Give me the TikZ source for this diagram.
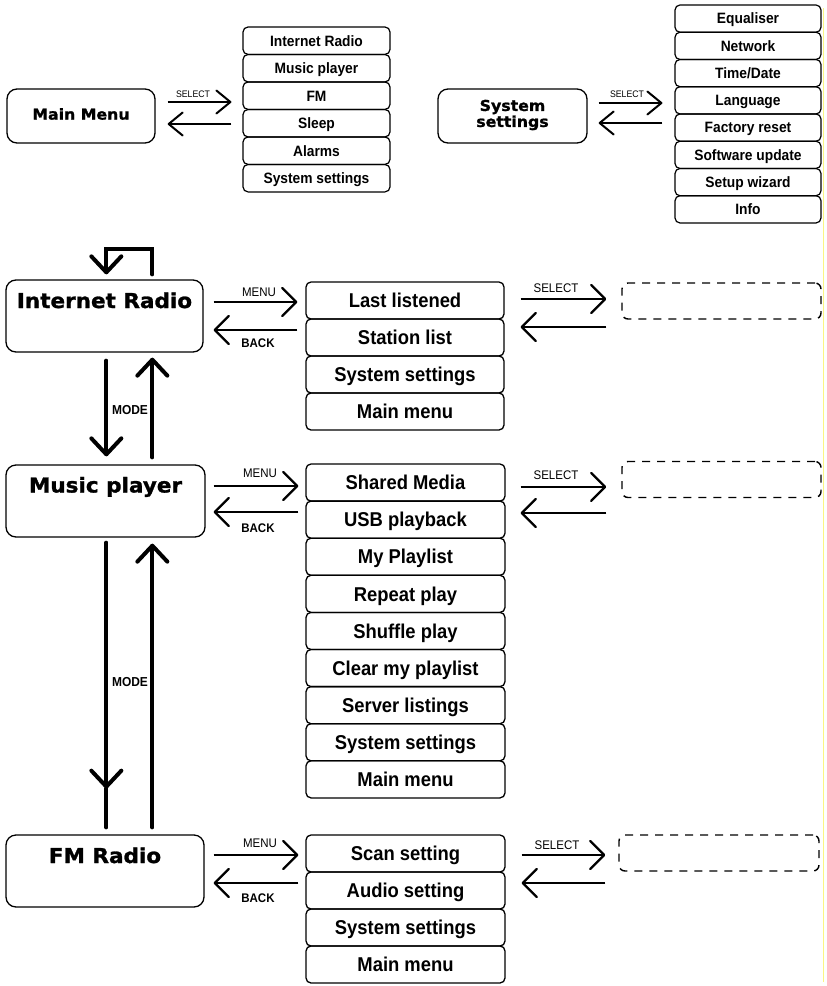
\documentclass[tikz,border=0pt]{standalone}
\usepackage{fontspec}
\setmainfont{Liberation Sans}
\newfontfamily\itemfont[FakeStretch=0.92]{Liberation Sans}
\newfontfamily\headfont[FakeStretch=1.05,FakeBold=1.3]{DejaVu Sans}
\usetikzlibrary{arrows.meta,calc}
\definecolor{scanyellow}{RGB}{250,245,130}
\begin{document}
\begin{tikzpicture}[x=1pt,y=-1pt,
  itembox/.style={draw, rounded corners=5pt, line width=1.3pt, inner sep=0pt,
    font=\itemfont\bfseries\fontsize{20}{24}\selectfont, text height=14.3pt, text depth=0pt,
    minimum width=198pt, minimum height=37pt},
  smallitem/.style={draw, rounded corners=5pt, line width=1.2pt, inner sep=0pt,
    font=\itemfont\bfseries\fontsize{15}{18}\selectfont, text height=10.7pt, text depth=0pt,
    minimum width=147pt, minimum height=27.4pt},
  headbox/.style={draw, rounded corners=10pt, line width=1.3pt, inner sep=0pt},
  headtext/.style={font=\headfont\bfseries\fontsize{20.5}{24}\selectfont, inner sep=0pt,
    text height=15pt, text depth=0pt},
  smallhead/.style={font=\headfont\bfseries\fontsize{15}{16}\selectfont, inner sep=0pt, align=center},
  dashbox/.style={draw, dashed, dash pattern=on 8pt off 7pt, rounded corners=6pt, line width=1.4pt,
    minimum width=199pt, minimum height=36pt, inner sep=0pt},
  lbl/.style={font=\itemfont\fontsize{12.5}{14}\selectfont, inner sep=0pt, text height=9pt, text depth=0pt},
  blbl/.style={lbl, font=\itemfont\bfseries\fontsize{12.5}{14}\selectfont},
  tlbl/.style={font=\itemfont\fontsize{9.5}{11}\selectfont, inner sep=0pt, text height=6.8pt, text depth=0pt},
  harr/.style={line width=2.3pt, -{Straight Barb[length=14pt,width=28pt,round]}},
  tarr/.style={line width=2pt, -{Straight Barb[length=14pt,width=23pt,round]}},
  varr/.style={line width=4pt, line cap=round, -{Straight Barb[length=16pt,width=30pt,round]}},
  vline/.style={line width=4pt, line cap=round}
]
\useasboundingbox (0,0) rectangle (827,986);
\draw[scanyellow, line width=0.8pt] (823,8) -- (823,982);

% ---------- Main Menu ----------
\node[headbox, minimum width=148pt, minimum height=54pt] (mm) at (81,116) {};
\node[smallhead] (mmt) at (81,114) {Main Menu};
\foreach \t [count=\i] in {Internet Radio,Music player,FM,Sleep,Alarms,System settings}
  \node[smallitem] (m\i) at (316.5,{27+13.7+27.5*(\i-1)}) {\t};
\draw[tarr] ($(mm.east)+(12,-14)$) -- ($(m3.west|-mm.east)+(-11,-14)$);
\node[tlbl] (mmsel) at (193,94) {SELECT};
\draw[tarr] ($(m3.west|-mm.east)+(-11,8)$) -- ($(mm.east)+(12,8)$);

% ---------- System settings ----------
\node[headbox, minimum width=149pt, minimum height=54pt] (ss) at (512.5,116) {};
\node[smallhead] (sst) at (512.5,115) {System\\settings};
\foreach \t [count=\i] in {Equaliser,Network,Time/Date,Language,Factory reset,Software update,Setup wizard,Info}
  \node[smallitem, minimum width=146pt, minimum height=27.25pt] (s\i) at (748,{5+13.6+27.25*(\i-1)}) {\t};
\draw[tarr] ($(ss.east)+(11,-13)$) -- ($(s4.west|-ss.east)+(-12,-13)$);
\node[tlbl] (sssel) at (627,94.5) {SELECT};
\draw[tarr] ($(s4.west|-ss.east)+(-12,7)$) -- ($(ss.east)+(11,7)$);

% ---------- Internet Radio ----------
\node[headbox, minimum width=197pt, minimum height=72pt] (ir) at (104.5,316) {};
\node[headtext] (irt) at (104.5,300.5) {Internet Radio};
\foreach \t [count=\i] in {Last listened,Station list,System settings,Main menu}
  \node[itembox] (i\i) at (405,{282+18.5+37*(\i-1)}) {\t};
\node[dashbox] (d1) at (721.5,301) {};
\draw[harr] ($(ir.east|-i1)+(10,1.5)$) -- ($(i1.west)+(-8,1.5)$);
\node[lbl] (irmenu) at (259,292) {MENU};
\draw[harr] ($(i2.west)+(-8,-7.5)$) -- ($(ir.east|-i2)+(10,-7.5)$);
\node[blbl] (irback) at (258,343) {BACK};
\draw[harr] ($(i1.east)+(16,-1.5)$) -- ($(d1.west|-i1)+(-15,-1.5)$);
\node[lbl] (irsel) at (556,288) {SELECT};
\draw[harr] ($(d1.west|-i2)+(-15,-10.5)$) -- ($(i2.east)+(16,-10.5)$);
% loop
\draw[varr] ($(ir.north west)+(147,-5)$) -- ++(0,-25) -| ($(ir.north west)+(101,-5)$);

% ---------- Music player ----------
\node[headbox, minimum width=199pt, minimum height=72pt] (mp) at (105.5,501) {};
\node[headtext] (mpt) at (105.5,485) {Music player};
\foreach \t [count=\i] in {Shared Media,USB playback,My Playlist,Repeat play,Shuffle play,Clear my playlist,Server listings,System settings,Main menu}
  \node[itembox, minimum width=199pt, minimum height=37.1pt] (p\i) at (405.5,{464+18.55+37.1*(\i-1)}) {\t};
\node[dashbox] (d2) at (721.5,479.5) {};
\draw[harr] ($(mp.east|-p1)+(8,3.4)$) -- ($(p1.west)+(-7,3.4)$);
\node[lbl] (mpmenu) at (260,473) {MENU};
\draw[harr] ($(p2.west)+(-7,-7.7)$) -- ($(mp.east|-p2)+(8,-7.7)$);
\node[blbl] (mpback) at (258,527.5) {BACK};
\draw[harr] ($(p1.east)+(15,4.4)$) -- ($(d2.west|-p1)+(-15,4.4)$);
\node[lbl] (mpsel) at (556,475) {SELECT};
\draw[harr] ($(d2.west|-p2)+(-15,-6.7)$) -- ($(p2.east)+(15,-6.7)$);

% ---------- FM Radio ----------
\node[headbox, minimum width=198pt, minimum height=72pt] (fm) at (105,871) {};
\node[headtext] (fmt) at (105,855.5) {FM Radio};
\foreach \t [count=\i] in {Scan setting,Audio setting,System settings,Main menu}
  \node[itembox, minimum width=199pt] (f\i) at (405.5,{835+18.5+37*(\i-1)}) {\t};
\node[dashbox, minimum width=200pt] (d3) at (719,853) {};
\draw[harr] ($(fm.east|-f1)+(9,1.5)$) -- ($(f1.west)+(-7,1.5)$);
\node[lbl] (fmmenu) at (260,843) {MENU};
\draw[harr] ($(f2.west)+(-7,-7.5)$) -- ($(fm.east|-f2)+(9,-7.5)$);
\node[blbl] (fmback) at (258,898) {BACK};
\draw[harr] ($(f1.east)+(16,1.5)$) -- ($(d3.west|-f1)+(-13,1.5)$);
\node[lbl] (fmsel) at (557,845) {SELECT};
\draw[harr] ($(d3.west|-f2)+(-13,-7.5)$) -- ($(f2.east)+(16,-7.5)$);

% ---------- MODE arrows ----------
\draw[varr] ($(ir.south west)+(101,8)$) -- ($(mp.north west)+(101,-8)$);
\draw[varr] ($(mp.north west)+(147,-7)$) -- ($(ir.south west)+(147,5)$);
\node[blbl, font=\itemfont\bfseries\fontsize{13}{15}\selectfont] (mode1) at (130,410) {MODE};

\coordinate (mid2) at ($(mp.south west)+(101,251)$);
\draw[varr] ($(mp.south west)+(101,5)$) -- (mid2);
\draw[vline] (mid2) -- ($(fm.north west)+(101,-7)$);
\draw[varr] ($(fm.north west)+(147,-7)$) -- ($(mp.south west)+(147,6)$);
\node[blbl, font=\itemfont\bfseries\fontsize{13}{15}\selectfont] (mode2) at (130,682) {MODE};
\end{tikzpicture}
\end{document}
